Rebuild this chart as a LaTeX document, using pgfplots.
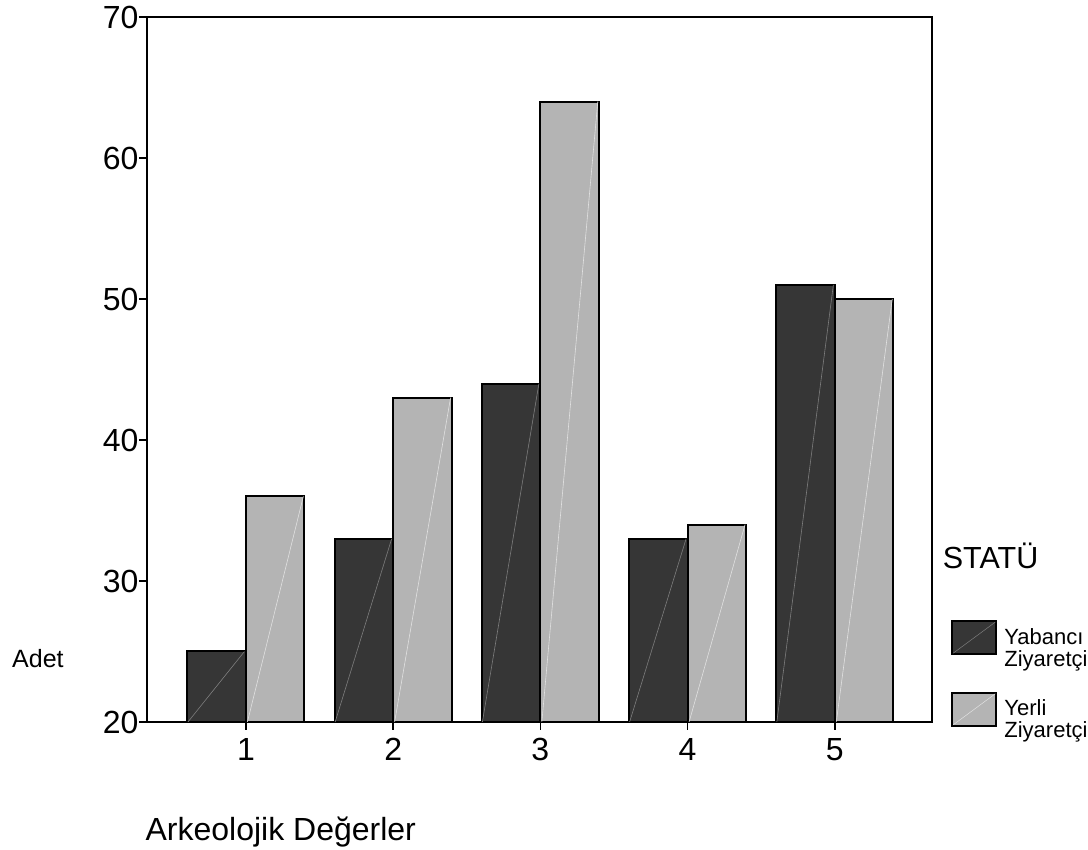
\documentclass[border=0pt]{standalone}
\usepackage{pgfplots}
\pgfplotsset{compat=1.18}
\usepackage{fontspec}
\setmainfont{Liberation Sans}
\definecolor{darkbar}{RGB}{54,54,54}
\definecolor{lightbar}{RGB}{180,180,180}
\definecolor{diagdark}{RGB}{125,125,125}
\definecolor{diaglight}{RGB}{225,225,225}
\begin{document}
\begin{tikzpicture}
\path[use as bounding box] (0,0) rectangle (1088pt,850pt);
\begin{axis}[
  at={(147pt,128pt)}, anchor=south west,
  scale only axis, width=785pt, height=705pt,
  clip mode=individual,
  xmin=0.328, xmax=5.66, ymin=20, ymax=70,
  xtick={1,2,3,4,5}, ytick={20,30,40,50,60,70},
  xtick pos=left, ytick pos=left, tick align=outside,
  major tick length=8pt,
  tick style={black, line width=1.5pt},
  axis line style={line width=2.4pt},
  /pgf/number format/assume math mode=true,
  tick label style={font=\fontsize{32}{38}\selectfont},
  yticklabel style={xshift=3pt},
  xticklabel style={yshift=-5pt},
  bar width=58.5pt,
  unbounded coords=jump,
  legend style={at={(axis description cs:1.0242,0.1447)}, anchor=north west,
    draw=none, fill=none, font=\fontsize{22}{22}\selectfont,
    cells={align=left, anchor=north west, inner sep=0pt}, row sep=22pt, inner sep=0pt},
]
\addplot[ybar, forget plot, fill=darkbar, draw=black, line width=2pt, bar shift=-29.25pt]
  coordinates {(1,25) (2,33) (3,44) (4,33) (5,51)};
\addplot[ybar, forget plot, fill=lightbar, draw=black, line width=2pt, bar shift=29.25pt]
  coordinates {(1,36) (2,43) (3,64) (4,34) (5,50)};
% faint diagonals inside the bars
\addplot[forget plot, draw=diagdark, line width=0.6pt]
  coordinates {(0.606,20) (0.99,25) (1,nan) (1.606,20) (1.99,33) (2,nan) (2.606,20) (2.99,44) (3,nan) (3.606,20) (3.99,33) (4,nan) (4.606,20) (4.99,51)};
\addplot[forget plot, draw=diaglight, line width=0.6pt]
  coordinates {(1.01,20) (1.39,36) (1.5,nan) (2.01,20) (2.39,43) (2.5,nan) (3.01,20) (3.39,64) (3.5,nan) (4.01,20) (4.39,34) (4.5,nan) (5.01,20) (5.39,50)};
\addlegendimage{legend image code/.code={\draw[fill=darkbar,draw=black,line width=2pt] (0pt,5pt) rectangle (44pt,-28pt);\draw[diagdark,line width=0.5pt] (1pt,-27pt) -- (43pt,4pt);\path (50pt,0pt);}}
\addlegendentry{Yabancı\\Ziyaretçi}
\addlegendimage{legend image code/.code={\draw[fill=lightbar,draw=black,line width=2pt] (0pt,5pt) rectangle (44pt,-28pt);\draw[diaglight,line width=0.5pt] (1pt,-27pt) -- (43pt,4pt);\path (50pt,0pt);}}
\addlegendentry{Yerli\\Ziyaretçi}
\node[anchor=base west, font=\fontsize{30.5}{30}\selectfont, inner sep=0pt] at (axis description cs:1.0135,0.2184) {STATÜ};
\node[anchor=base west, font=\fontsize{25}{25}\selectfont, inner sep=0pt] at (axis description cs:-0.172,0.078) {Adet};
\node[anchor=base west, font=\fontsize{32}{32}\selectfont, inner sep=0pt] at (axis description cs:-0.002,-0.1674) {Arkeolojik Değerler};
\end{axis}
\end{tikzpicture}
\end{document}
